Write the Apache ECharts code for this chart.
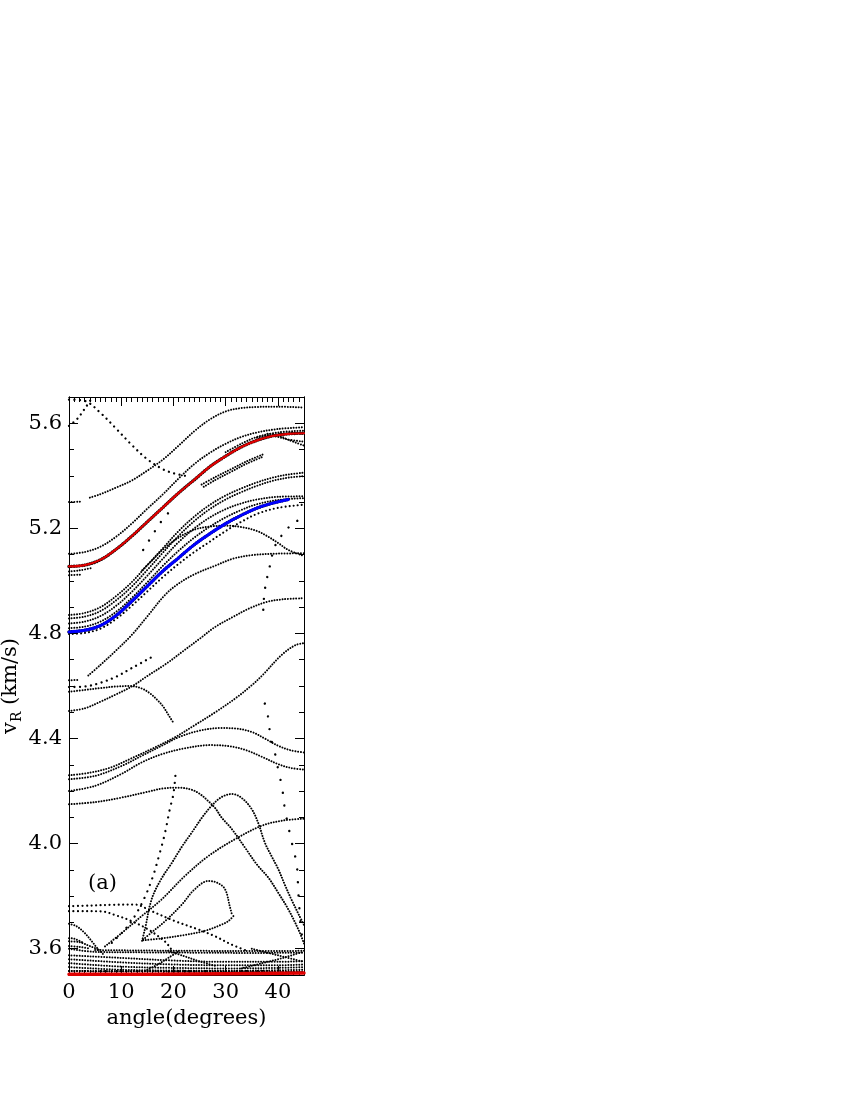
<!DOCTYPE html>
<html><head><meta charset="utf-8">
<script src="https://cdn.jsdelivr.net/npm/echarts@6/dist/echarts.min.js"></script>
<style>html,body{margin:0;padding:0;background:#fff}#c{width:850px;height:1100px}</style>
</head><body><div id="c"></div>
<script>
const FONT = 'DejaVu Serif';
const xTickLabels = [0, 10, 20, 30, 40];
const yTickLabels = [3.6, 4.0, 4.4, 4.8, 5.2, 5.6];
const xRange = [0, 45];
const yRange = [3.5, 5.7];

// ---- curves: [angle, vR] ----
const upperAStub = [[0,5.30],[2.5,5.302]];
const upperA = [[4,5.317],[6,5.33],[9,5.355],[12,5.382],[15,5.42],[18,5.462],[21,5.515],[24,5.57],[27,5.615],[30,5.645],[33,5.658],[36,5.662],[40,5.663],[45,5.66]];
const topFalling = [[0,5.69],[3,5.685],[6,5.64],[9,5.58],[12,5.518],[15,5.463],[18,5.425],[20,5.41],[22.2,5.40]];
const topRising = [[0,5.59],[1.5,5.615],[3,5.655],[4.5,5.70]];
const redUpper = [[0,5.055],[3,5.06],[6,5.08],[9,5.12],[12,5.17],[15,5.225],[18,5.28],[21,5.335],[24,5.385],[27,5.435],[30,5.475],[33,5.51],[36,5.535],[39,5.552],[42,5.56],[45,5.562]];
const curveD = [[0,5.103],[3,5.11],[6,5.13],[9,5.168],[12,5.218],[15,5.275],[18,5.33],[21,5.39],[24,5.445],[27,5.488],[30,5.522],[33,5.548],[36,5.565],[40,5.578],[45,5.585]];
const rightR1 = [[30,5.49],[33,5.522],[36,5.548],[40,5.565],[45,5.572]];
const rightR2 = [[36,5.545],[38,5.553],[40,5.548],[42,5.538],[45,5.53]];
const rightR3 = [[38,5.56],[40,5.555],[42,5.537],[45,5.515]];
const stubE1 = [[0,5.036],[2,5.04],[4.5,5.05]];
const stubE2 = [[0,5.022],[2.2,5.024]];
const segT1 = [[25.4,5.367],[28,5.395],[31,5.425],[34,5.455],[37.2,5.482]];
const segT2 = [[25.8,5.358],[28,5.384],[31,5.415],[34,5.446],[37.2,5.473]];
const bundleA = [[0,4.87],[3,4.878],[6,4.9],[9,4.942],[12,4.995],[15,5.06],[18,5.125],[21,5.19],[24,5.245],[27,5.29],[30,5.325],[33,5.352],[36,5.375],[39,5.393],[42,5.405],[45,5.412]];
const bundleB = [[0,4.857],[3,4.864],[6,4.885],[9,4.926],[12,4.978],[15,5.042],[18,5.108],[21,5.172],[24,5.228],[27,5.274],[30,5.31],[33,5.338],[36,5.362],[39,5.381],[42,5.393],[45,5.399]];
const bundleC = [[0,4.838],[3,4.845],[6,4.866],[9,4.905],[12,4.958],[15,5.02],[18,5.085],[21,5.148],[24,5.2],[27,5.242],[30,5.273],[33,5.295],[36,5.31],[40,5.32],[45,5.322]];
const bundleD = [[0,4.82],[3,4.826],[6,4.845],[9,4.882],[12,4.935],[15,4.995],[18,5.058],[21,5.115],[24,5.165],[27,5.207],[30,5.242],[33,5.27],[36,5.292],[40,5.308],[45,5.315]];
const blueCurve = [[0,4.806],[3,4.812],[6,4.83],[9,4.868],[12,4.922],[15,4.98],[18,5.038],[21,5.088],[24,5.138],[27,5.18],[30,5.218],[33,5.25],[36,5.277],[39,5.296],[42,5.31]];
const bundleE = [[0,4.798],[3,4.802],[6,4.818],[9,4.855],[12,4.905],[15,4.96],[18,5.015],[21,5.065],[24,5.11],[27,5.15],[30,5.19],[33,5.225],[36,5.255],[40,5.278],[45,5.29]];
const curveG = [[14,5.04],[16,5.08],[18,5.12],[21,5.165],[24,5.195],[27,5.207],[30,5.21],[33,5.205],[36,5.19],[38,5.17],[40,5.145],[42,5.118],[45,5.095]];
const curveF = [[3.7,4.64],[6,4.68],[9,4.735],[12,4.794],[15,4.865],[18.4,4.947],[21,4.99],[24,5.025],[28,5.058],[31.5,5.085],[35,5.098],[40,5.104],[45,5.105]];
const sparseY = [[14.2,5.118],[16,5.175],[17.7,5.227],[19.3,5.265]];
const stub4622 = [[0,4.622],[2,4.623]];
const curveH = [[0,4.505],[3,4.515],[6,4.54],[9,4.568],[12,4.598],[15,4.638],[18.7,4.686],[22,4.735],[25.1,4.781],[28,4.825],[31.5,4.864],[34.5,4.895],[37.9,4.92],[41,4.93],[45,4.934]];
const curveI = [[0,4.578],[3,4.585],[6,4.592],[9,4.598],[11.7,4.60],[14,4.59],[15.5,4.572],[17,4.545],[18.1,4.52],[19.2,4.485],[20,4.46]];
const curveJ = [[0,4.596],[3,4.598],[6,4.612],[9,4.635],[12,4.668],[16.1,4.713]];
const curveL = [[0,4.26],[4,4.27],[8,4.29],[12,4.325],[16,4.362],[20.3,4.405],[24,4.45],[28,4.50],[32,4.555],[35,4.603],[37,4.64],[40.7,4.718],[43.3,4.755],[45,4.763]];
const curveM = [[0,4.245],[5,4.258],[10,4.295],[14,4.335],[18,4.375],[21,4.405],[25,4.43],[29,4.44],[32,4.438],[35,4.425],[37.5,4.40],[40,4.373],[42.5,4.355],[45,4.347]];
const curveN = [[0,4.20],[5,4.22],[10,4.265],[14,4.31],[18,4.342],[22,4.362],[27,4.375],[31,4.37],[34,4.355],[37,4.33],[40,4.303],[42.5,4.288],[45,4.282]];
const curveO = [[0,4.15],[5,4.158],[10,4.175],[15,4.197],[18,4.21],[21,4.213],[23.5,4.205],[25,4.19],[26.5,4.165],[28,4.135],[29.2,4.1],[31.2,4.055],[33.7,3.985],[36,3.92],[38.2,3.87],[40,3.815],[42,3.75],[44,3.67],[45,3.62]];
const curveQ = [[14,3.63],[14.6,3.68],[15.8,3.787],[17.5,3.86],[19.7,3.927],[21.5,3.985],[23.5,4.042],[25.5,4.1],[27.3,4.144],[29.2,4.177],[31.2,4.189],[33,4.175],[35,4.131],[36.3,4.075],[37.5,4.004],[38.8,3.952],[40.1,3.902],[41.3,3.845],[42.6,3.787],[44,3.73],[45,3.69]];
const curveR = [[6.9,3.609],[10.1,3.66],[13.9,3.724],[17.7,3.787],[22.2,3.877],[26.7,3.953],[31.8,4.017],[36.9,4.068],[41,4.088],[45,4.095]];
const curveS = [[8.2,3.622],[10.7,3.673],[12.6,3.724],[14.6,3.80],[16.1,3.877],[17.4,3.966],[18.4,4.042],[19.3,4.131],[20,4.19],[20.4,4.265]];
const curveT = [[14.2,3.635],[16,3.665],[18.4,3.705],[21.6,3.768],[24,3.825],[26.7,3.858],[28.5,3.85],[29.9,3.826],[30.8,3.76],[31.2,3.73]];
const curveU = [[14.2,3.632],[18,3.64],[22,3.652],[26,3.668],[29,3.69],[30.5,3.705],[31.5,3.725]];
const curveV1 = [[0,3.762],[4,3.764],[8,3.767],[12.6,3.768],[15.8,3.743],[20.3,3.705],[24.8,3.673],[28,3.647],[31,3.617],[34.3,3.59]];
const curveV2 = [[0,3.743],[3,3.743],[6.3,3.742],[9,3.727],[12,3.705],[15.2,3.673],[18.4,3.627],[19.5,3.60]];
const curveW = [[0,3.695],[1.5,3.685],[3,3.66],[4.3,3.63],[5.5,3.60],[6.5,3.58]];
const steepUpper = [[37.2,4.89],[37.5,4.966],[38.5,5.06],[39.4,5.13],[41,5.18],[43,5.22],[45,5.24]];
const steepLower = [[37.5,4.533],[38.2,4.475],[38.5,4.418],[39.1,4.367],[39.8,4.316],[40.1,4.271],[40.7,4.227],[41.4,4.125],[42.6,4.01],[43.6,3.92],[43.9,3.82],[44.2,3.73],[44.6,3.65]];
const low1 = [[5,3.595],[15,3.593],[25,3.592],[35,3.591],[45,3.592]];
const low2 = [[0,3.60],[5,3.588],[15,3.586],[25,3.585],[35,3.584],[45,3.585]];
const low3 = [[0,3.575],[10,3.565],[20,3.555],[30,3.55],[40,3.55],[45,3.553]];
const low4 = [[0,3.56],[10,3.548],[20,3.54],[30,3.537],[40,3.537],[45,3.54]];
const low5 = [[0,3.545],[10,3.532],[20,3.527],[30,3.525],[40,3.527],[45,3.53]];
const low6 = [[0,3.53],[10,3.52],[20,3.517],[30,3.516],[40,3.518],[45,3.52]];
const low7 = [[0,3.515],[45,3.512]];
const lowLeft1 = [[0,3.628],[2,3.625],[4,3.61],[5.5,3.598]];
const lowLeft2 = [[0,3.61],[2,3.607],[4,3.6]];
const lowLeft3 = [[0,3.64],[1,3.638],[2.5,3.625]];
const cross1 = [[19,3.592],[22,3.572],[25,3.552],[28,3.535]];
const cross2 = [[15,3.52],[17,3.54],[19,3.565],[21,3.59]];
const cross3 = [[33,3.525],[37,3.545],[41,3.565],[45,3.59]];
const cross4 = [[35,3.6],[38,3.585],[41,3.57],[45,3.55]];
const redLower = [[0,3.503],[15,3.503],[30,3.505],[45,3.508]];

// ---- styles ----
const DENSE = {w: 2.0, gap: 2.7};
const SPARSE = {w: 2.3, gap: 5.5};
const VSPARSE = {w: 2.4, gap: 11};

const blackCurves = [
  [upperAStub, DENSE], [upperA, DENSE], [topFalling, SPARSE], [topRising, SPARSE],
  [redUpper, {w: 3.4, gap: 2.6}], [curveD, DENSE], [rightR1, DENSE], [rightR2, DENSE], [rightR3, DENSE],
  [stubE1, DENSE], [stubE2, DENSE], [segT1, DENSE], [segT2, DENSE],
  [bundleA, DENSE], [bundleB, DENSE], [bundleC, DENSE], [bundleD, DENSE], [blueCurve, {w: 3.4, gap: 2.6}],
  [bundleE, {w: 2.1, gap: 4}], [curveG, DENSE], [curveF, DENSE], [sparseY, VSPARSE], [stub4622, DENSE],
  [curveH, DENSE], [curveI, DENSE], [curveJ, SPARSE], [curveL, DENSE], [curveM, DENSE], [curveN, DENSE],
  [curveO, DENSE], [curveQ, DENSE], [curveR, DENSE], [curveS, {w: 2.3, gap: 7}], [curveT, DENSE], [curveU, DENSE],
  [curveV1, {w: 2.2, gap: 4.5}], [curveV2, {w: 2.2, gap: 4.5}], [curveW, DENSE],
  [steepUpper, VSPARSE], [steepLower, {w: 2.4, gap: 13}],
  [low1, DENSE], [low2, DENSE], [low3, DENSE], [low4, DENSE], [low5, DENSE], [low6, DENSE], [low7, DENSE],
  [lowLeft1, DENSE], [lowLeft2, DENSE], [lowLeft3, DENSE],
  [cross1, DENSE], [cross2, DENSE], [cross3, DENSE], [cross4, DENSE]
];

function dotted(data, st) {
  return {type: 'line', data: data, smooth: 0.35, symbol: 'none', silent: true,
    xAxisIndex: 0, yAxisIndex: 0, z: 2,
    lineStyle: {color: '#000', width: st.w, type: [0.01, st.gap], cap: 'round'}};
}
function solid(data, color, w, z) {
  return {type: 'line', data: data, smooth: 0.35, symbol: 'none', silent: true,
    xAxisIndex: 0, yAxisIndex: 0, z: z,
    lineStyle: {color: color, width: w, cap: 'round'}};
}

const series = blackCurves.map(c => dotted(c[0], c[1]));
series.push(solid(redUpper, '#e00000', 2.2, 5));
series.push(solid(blueCurve, '#0000ff', 3.0, 5));
series.push(solid(redLower, '#e00000', 3.5, 5));
series.push(dotted(low7, DENSE));

// ---- ticks ----
const xMinor = []; for (let i = 1; i < 45; i++) if (i % 10) xMinor.push(i);
const xMajor = [10, 20, 30, 40];
const yMinor = []; for (let i = 35; i <= 57; i++) yMinor.push(i / 10);

const lineSt = {color: '#000', width: 1};
function axis(kind, pos, opts) {
  const range = kind === 'x' ? xRange : yRange;
  return Object.assign({
    type: 'value', position: pos, min: range[0], max: range[1],
    splitLine: {show: false},
    axisLine: {show: true, onZero: false, lineStyle: lineSt},
    axisLabel: {show: false},
    axisTick: {show: false}
  }, opts);
}
function ticks(values, len) {
  return {show: true, inside: true, length: len, customValues: values, lineStyle: lineSt};
}

const option = {
  animation: false,
  backgroundColor: '#fff',
  grid: {left: 69, top: 397, width: 235, height: 578, containLabel: false, outerBoundsMode: 'none'},
  xAxis: [
    axis('x', 'bottom', {
      axisTick: ticks(xMajor, 9),
      axisLabel: {show: true, customValues: xTickLabels, margin: 7, color: '#000', fontSize: 21, fontFamily: FONT,
        formatter: v => String(v)},
      name: 'angle(degrees)', nameLocation: 'middle', nameGap: 29,
      nameTextStyle: {color: '#000', fontSize: 21, fontFamily: FONT}
    }),
    axis('x', 'bottom', {axisTick: ticks(xMinor, 5)}),
    axis('x', 'top', {axisTick: ticks(xMajor, 9)}),
    axis('x', 'top', {axisTick: ticks(xMinor, 5)})
  ],
  yAxis: [
    axis('y', 'left', {
      axisTick: ticks(yTickLabels, 9),
      axisLabel: {show: true, customValues: yTickLabels, margin: 7, color: '#000', fontSize: 21, fontFamily: FONT,
        formatter: v => Number(v).toFixed(1)},
      name: '{a|v}{b|R}{a| (km/s)}', nameLocation: 'middle', nameGap: 36, nameRotate: 90,
      nameTextStyle: {color: '#000', fontSize: 21, fontFamily: FONT,
        rich: {
          a: {fontSize: 21, fontFamily: FONT, color: '#000', lineHeight: 24, verticalAlign: 'top'},
          b: {fontSize: 14, fontFamily: FONT, color: '#000', lineHeight: 15, padding: [11, 0, 0, 0], verticalAlign: 'top'}
        }}
    }),
    axis('y', 'left', {axisTick: ticks(yMinor, 5)}),
    axis('y', 'right', {axisTick: ticks(yTickLabels, 9)}),
    axis('y', 'right', {axisTick: ticks(yMinor, 5)})
  ],
  graphic: [{type: 'text', left: 88, top: 873, style: {text: '(a)', font: '21px "DejaVu Serif"', fill: '#000'}}],
  series: series
};

const chart = echarts.init(document.getElementById('c'), null, {renderer: 'canvas'});
chart.setOption(option);
</script></body></html>
